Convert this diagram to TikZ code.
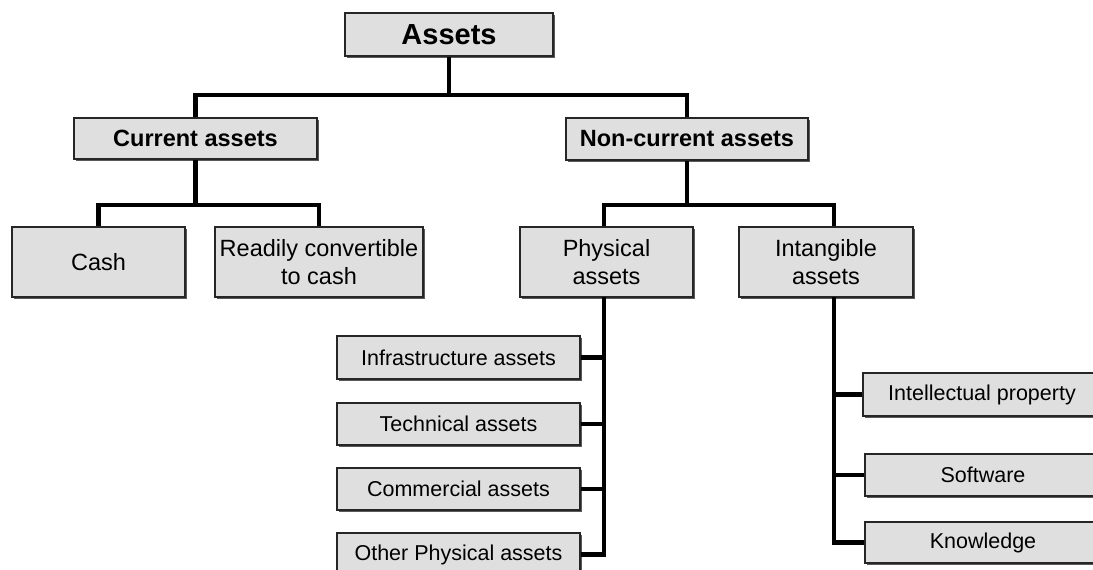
\documentclass[tikz,border=0pt]{standalone}
\usepackage{fontspec}
\setmainfont{Liberation Sans}
\usetikzlibrary{shadows}
\definecolor{boxfill}{HTML}{DFDFDF}
\definecolor{boxline}{HTML}{262626}
\definecolor{shadowgray}{HTML}{5A5A5A}
\begin{document}
\begin{tikzpicture}[x=1pt,y=-1pt,
  box/.style={rectangle, draw=boxline, line width=1.3pt, fill=boxfill,
    inner sep=0pt, align=center,
    drop shadow={shadow xshift=1.8pt, shadow yshift=-1.8pt, fill=shadowgray, opacity=1}},
  toplevel/.style={box, font=\fontsize{29}{33}\selectfont\bfseries},
  group/.style={box, font=\fontsize{23.5}{27}\selectfont\bfseries},
  kind/.style={box, font=\fontsize{23.5}{27.5}\selectfont},
  item/.style={box, font=\fontsize{21.5}{25}\selectfont},
  conn/.style={draw=black, line width=4.5pt, line join=miter}]

\useasboundingbox (0,0) rectangle (1093,570);
\fill[white] (0,0) rectangle (1093,570);
\clip (0,0) rectangle (1093,570);

% root and first level
\node[toplevel, minimum width=208pt, minimum height=43pt] (assets) at (449,34.5) {Assets};
\node[group, minimum width=243pt, minimum height=41pt] (cur) at (195.5,138.5) {Current assets};
\node[group, minimum width=242pt, minimum height=42pt] (noncur) at (687,139) {Non-current assets};

% second level
\node[kind, minimum width=173pt, minimum height=70pt] (cash) at (98.5,262) {Cash};
\node[kind, minimum width=208pt, minimum height=70pt] (ready) at (319,262) {Readily convertible\\to cash};
\node[kind, minimum width=173pt, minimum height=70pt] (phys) at (606.5,262) {Physical\\assets};
\node[kind, minimum width=174pt, minimum height=70pt] (intang) at (826,262) {Intangible\\assets};

% physical asset types
\node[item, minimum width=243pt, minimum height=43pt] (infra) at (458.5,357.5) {Infrastructure assets};
\node[item, minimum width=243pt, minimum height=42pt] (tech) at (458.5,424) {Technical assets};
\node[item, minimum width=243pt, minimum height=42pt] (comm) at (458.5,489) {Commercial assets};
\node[item, minimum width=243pt, minimum height=43pt] (other) at (458.5,554.5) {Other Physical assets};

% intangible asset types
\node[item, minimum width=238pt, minimum height=43pt] (ip) at (982,394.5) {Intellectual property};
\node[item, minimum width=236pt, minimum height=42pt] (soft) at (983,475) {Software};
\node[item, minimum width=236pt, minimum height=41pt] (know) at (983,542.5) {Knowledge};

% junction rows
\coordinate (ja) at (449,95);
\coordinate (jc) at (197,205);
\coordinate (jn) at (687,205);
\coordinate (ps) at (604,297);
\coordinate (is) at (834,297);

% connectors
\draw[conn] (assets.south) -- (ja);
\draw[conn] (cur.north) -- (cur.north |- ja) -- (noncur.north |- ja) -- (noncur.north);
\draw[conn] (cur.south) -- (cur.south |- jc);
\draw[conn] (cash.north) -- (cash.north |- jc) -- (ready.north |- jc) -- (ready.north);
\draw[conn] (noncur.south) -- (jn);
\draw[conn] (ps |- phys.north) -- (ps |- jn) -- (is |- jn) -- (is |- intang.north);

\draw[conn] (ps) |- (other.east);
\draw[conn] (infra.east) -- (infra.east -| ps);
\draw[conn] (tech.east) -- (tech.east -| ps);
\draw[conn] (comm.east) -- (comm.east -| ps);

\draw[conn] (is) |- (know.west);
\draw[conn] (ip.west) -- (ip.west -| is);
\draw[conn] (soft.west) -- (soft.west -| is);
\end{tikzpicture}
\end{document}
